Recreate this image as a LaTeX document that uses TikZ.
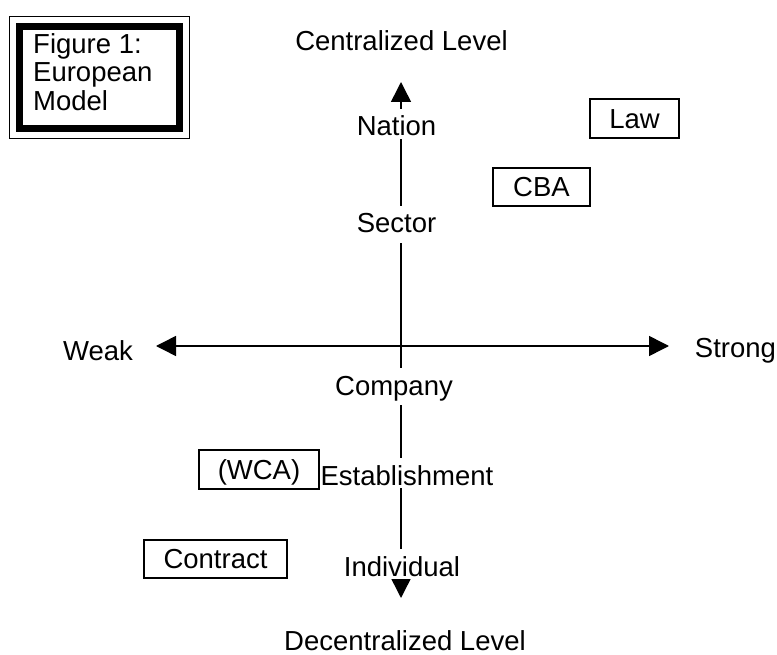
\documentclass[tikz,border=0pt]{standalone}
\usepackage{fontspec}
\setmainfont{Liberation Sans}
\usetikzlibrary{arrows.meta}

\begin{document}
\begin{tikzpicture}[x=1pt,y=-1pt,font=\fontsize{27.5}{28.5}\selectfont,
    axis/.style={line width=1.5pt,{Triangle[length=20pt,width=20pt]}-{Triangle[length=20pt,width=20pt]}},
    level/.style={fill=white,inner xsep=2pt,inner ysep=0pt,anchor=base,text height=27pt,text depth=3pt},
    pole/.style={anchor=base,inner sep=0pt},
    tag/.style={draw,line width=2pt,inner sep=0pt,text height=19.7pt,text depth=0pt}] 
   \useasboundingbox (0,0) rectangle (777,655);
   \coordinate (top)    at (401,82);
   \coordinate (bottom) at (401,598);
   \coordinate (left)   at (156,346);
   \coordinate (right)  at (669,346);
   \draw[axis] (bottom) -- (top);
   \draw[axis] (left) -- (right);

   \node[pole] (central)   at (401.5,51) {Centralized Level};
   \node[pole] (decentral) at (405,650)  {Decentralized Level};
   \node[pole] (weak)      at (98,360)   {Weak};
   \node[pole] (strong)    at (735.5,357) {Strong};

   \node[level] (nation)        at (396.5,136) {Nation};
   \node[level,text depth=10pt] (sector)  at (396.5,233) {Sector};
   \node[level,text depth=10pt] (company) at (394,395)   {Company};
   \node[level] (establishment) at (407,485)   {Establishment};
   \node[level] (individual)    at (402,576)   {Individual};

   \node[tag,minimum width=89pt,minimum height=39pt]  (law)      at (634.5,118.5) {Law};
   \node[tag,minimum width=97pt,minimum height=38pt]  (cba)      at (541.5,187)   {CBA};
   \node[tag,minimum width=120pt,minimum height=39pt] (wca)      at (259,469.5)   {(WCA)};
   \node[tag,minimum width=143pt,minimum height=38pt] (contract) at (215.5,559)   {Contract};

   % title box with thin outer frame
   \node[draw,line width=7pt,outer sep=0pt,minimum width=160pt,minimum height=102pt] (fig) at (99.5,77.5) {};
   \draw[line width=1.5pt] ([shift={(-10,-10)}]fig.north west) rectangle ([shift={(10,10)}]fig.south east);
   \node[anchor=north west,align=left,inner sep=0pt] (title) at (33,33) {Figure 1:\\European\\Model};
\end{tikzpicture}
\end{document}
